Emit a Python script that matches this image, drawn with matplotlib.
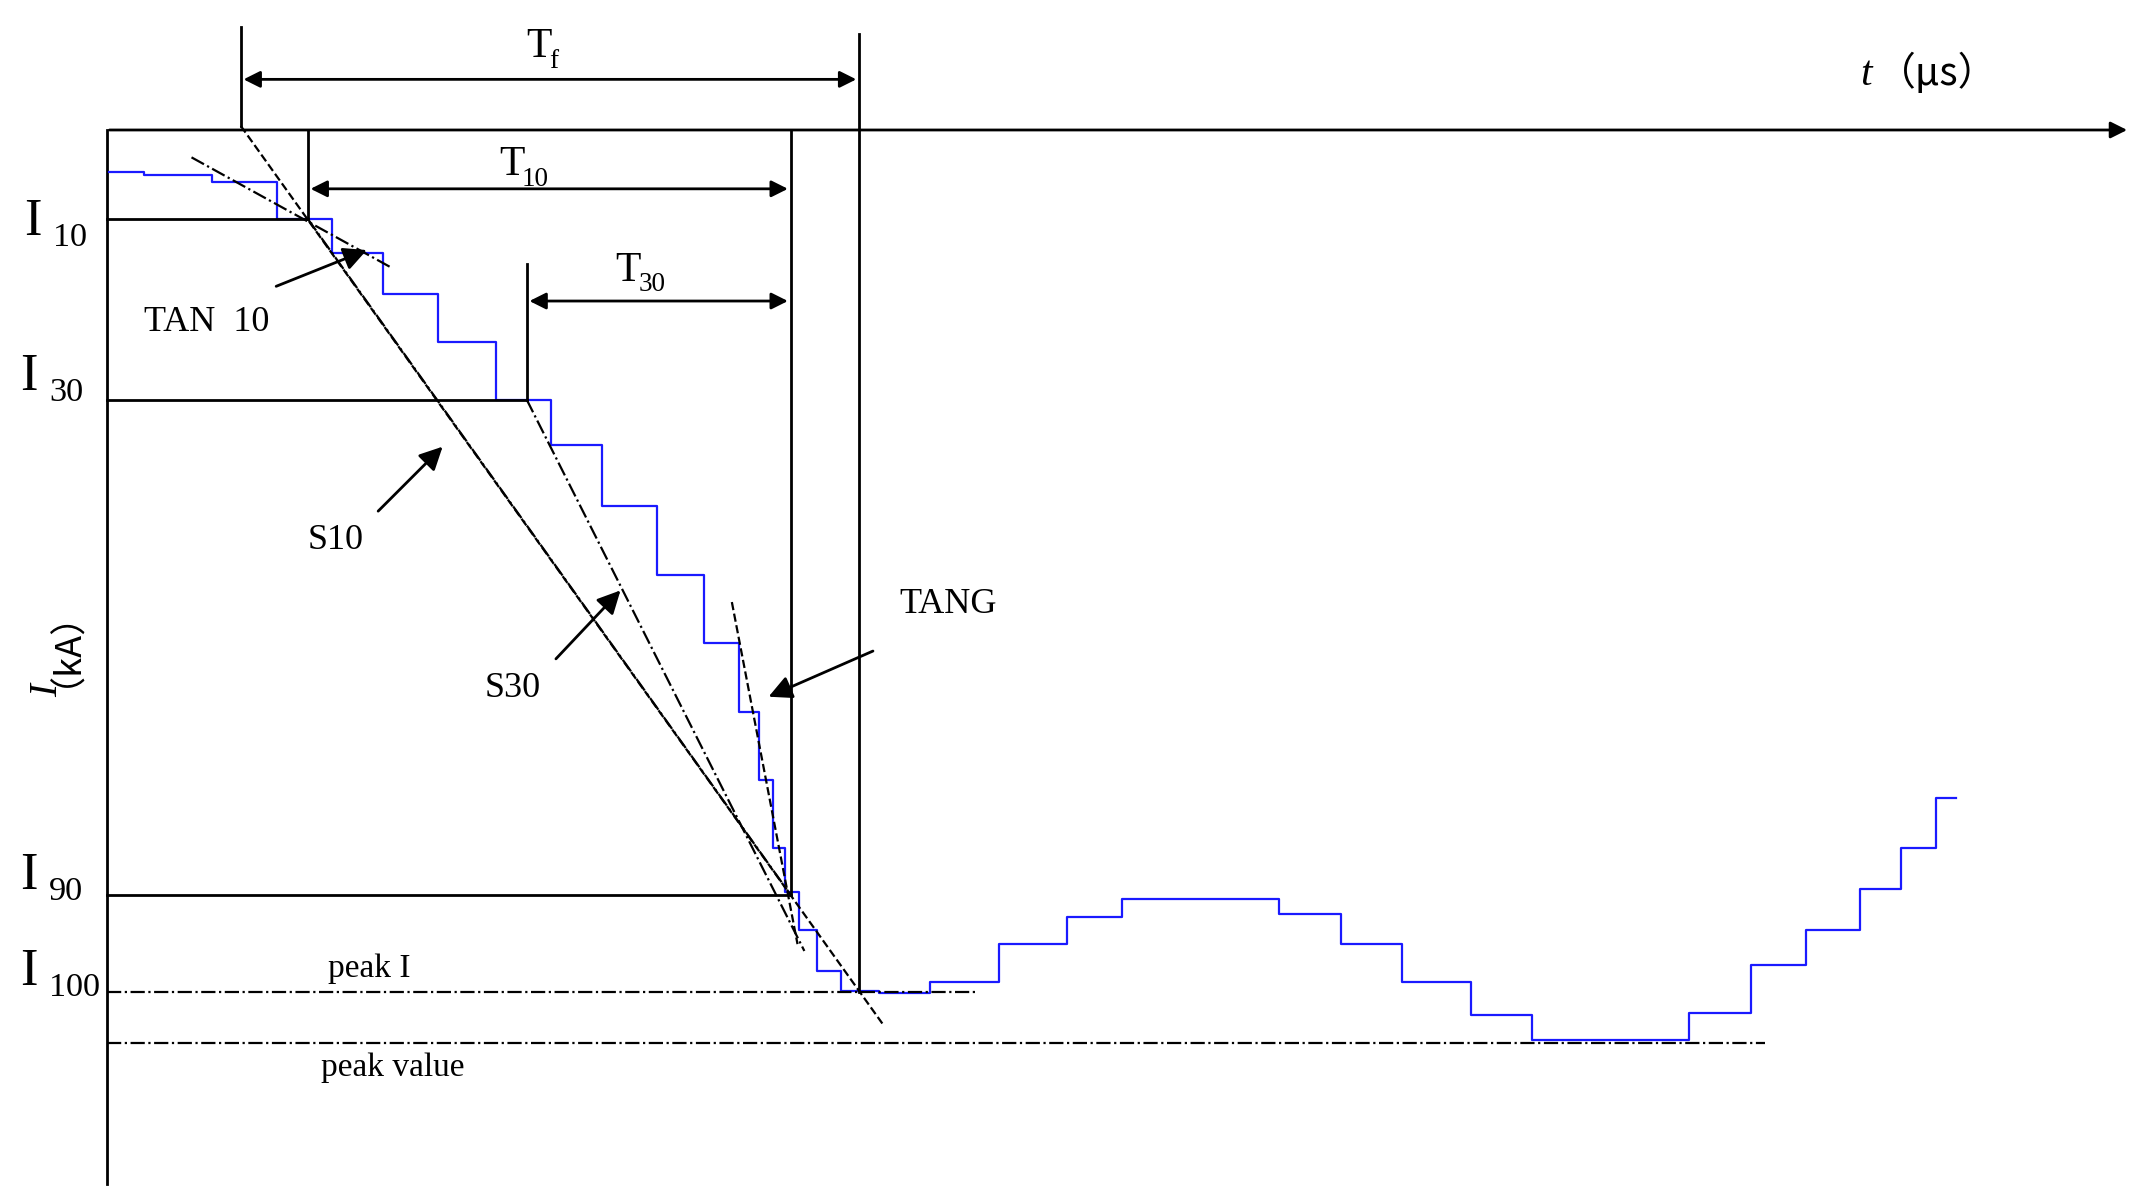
import matplotlib
matplotlib.use("Agg")
import matplotlib.pyplot as plt

# curve (diagram coordinates: x = time px, y = depth px)
curve_t = [80,130,180,225,260,300,340,385,420,460,500,530,550,560,570,578,590,605,625,660,700,760,800,840,910,960,1000,1050,1100,1140,1210,1260,1300,1340,1380,1400,1430]
curve_i = [126,128,133,160,185,215,250,292,325,370,420,470,520,570,620,652,680,710,724,726,718,690,670,657,657,668,690,718,742,760,760,740,705,680,650,620,583]

levels = {"10": (160, 225), "30": (292, 385), "90": (654, 578)}
peak_I, peak_value = 725, 762

plt.rcParams['font.family'] = ['Liberation Serif', 'DejaVu Serif']
fig = plt.figure(figsize=(21.34, 12), dpi=100)
ax = fig.add_axes([0, 0, 1, 1])
ax.set_xlim(0, 1560); ax.set_ylim(877, 0); ax.axis('off')
k = dict(color='black', lw=2)

ax.annotate('', xy=(1557, 95), xytext=(78, 95), arrowprops=dict(arrowstyle='-|>', color='black', lw=2, mutation_scale=25))
ax.plot([78, 78], [95, 865], **k)
ax.plot(curve_t, curve_i, color='#1a1aff', lw=1.6, drawstyle='steps-mid')

for name, (y, x) in levels.items():
    ax.plot([78, x], [y, y], **k)
ax.plot([78, 715], [peak_I]*2, color='black', lw=1.6, ls='-.')
ax.plot([78, 1290], [peak_value]*2, color='black', lw=1.6, ls='-.')

ax.plot([176, 176], [20, 92], **k)
ax.plot([225, 225], [95, 160], **k)
ax.plot([385, 385], [193, 292], **k)
ax.plot([578, 578], [95, 654], **k)
ax.plot([628, 628], [25, 725], **k)

ax.plot([176, 645], [92, 748], color='black', lw=1.6, ls='--')
ax.plot([140, 285], [115, 195], color='black', lw=1.6, ls='-.')
ax.plot([225, 578], [160, 654], color='black', lw=1.6, ls='-.')
ax.plot([385, 588], [292, 695], color='black', lw=1.6, ls='-.')
ax.plot([535, 583], [440, 690], color='black', lw=1.6, ls='--')

def darrow(y, x0, x1):
    ax.annotate('', xy=(x1, y), xytext=(x0, y), arrowprops=dict(arrowstyle='<|-|>', color='black', lw=2, mutation_scale=25))
darrow(58, 176, 628); darrow(138, 225, 578); darrow(220, 385, 578)

def arr(x0, y0, x1, y1):
    ax.annotate('', xy=(x1, y1), xytext=(x0, y0), arrowprops=dict(arrowstyle='-|>', color='black', lw=2, mutation_scale=35))
arr(200, 210, 270, 182); arr(275, 375, 325, 325); arr(405, 483, 455, 430); arr(640, 475, 560, 510)

fs = 26
def sub(x, y, main, s, size=34):
    ax.text(x, y, main, fontsize=size, ha='left', va='baseline')
    ax.text(x + size*0.55, y + 8, s, fontsize=size*0.65, ha='left', va='baseline')
sub(385, 42, 'T', 'f', 30)
sub(365, 128, 'T', '10', 30)
sub(450, 205, 'T', '30', 30)
sub(18, 172, 'I', '10', 38)
sub(15, 285, 'I', '30', 38)
sub(15, 650, 'I', '90', 38)
sub(15, 720, 'I', '100', 38)
ax.text(1360, 62, 't', fontsize=30, style='italic', va='baseline')
ax.text(1372, 62, '（μs）', fontsize=28, va='baseline', family=['Noto Sans CJK SC', 'DejaVu Sans'])
ax.text(35, 460, '（kA）', fontsize=26, rotation=90, ha='center', va='center', family=['Noto Sans CJK SC', 'DejaVu Sans'])
ax.text(35, 505, 'I', fontsize=28, style='italic', rotation=90, ha='center', va='center')
ax.text(105, 236, 'TAN  10', fontsize=fs, va='center')
ax.text(245, 395, 'S10', fontsize=fs, ha='center', va='center')
ax.text(375, 503, 'S30', fontsize=fs, ha='center', va='center')
ax.text(693, 442, 'TANG', fontsize=fs, ha='center', va='center')
ax.text(270, 708, 'peak I', fontsize=24, ha='center', va='center')
ax.text(287, 780, 'peak value', fontsize=24, ha='center', va='center')
fig.savefig('out.png', dpi=100)
